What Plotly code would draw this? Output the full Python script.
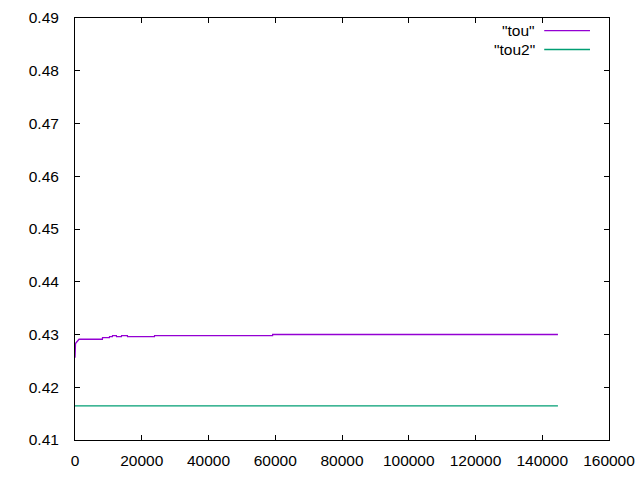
import plotly.graph_objects as go

# data
tou_x = [0, 0, 150, 1200, 8200, 8250, 10300, 10350, 11200, 11250, 12400, 12450,
         13900, 13950, 15700, 15740, 23800, 23840, 59200, 59230, 144700]
tou_y = [0.4256, 0.4281, 0.4283, 0.4291, 0.4291, 0.4294, 0.4294, 0.4296, 0.4296, 0.4298,
         0.4298, 0.4296, 0.4296, 0.4298, 0.4298, 0.4296, 0.4296, 0.4298, 0.4298, 0.4300, 0.4300]
tou2_x = [0, 144700]
tou2_y = [0.41648, 0.41648]

x_ticks = [0, 20000, 40000, 60000, 80000, 100000, 120000, 140000, 160000]
y_ticks = [0.41, 0.42, 0.43, 0.44, 0.45, 0.46, 0.47, 0.48, 0.49]
names = ['"tou"', '"tou2"']
colors = ["#9400D3", "#009E73"]

FONT = dict(family="Liberation Sans, Arial, sans-serif", size=15.5, color="black")

fig = go.Figure()
fig.add_trace(go.Scatter(x=tou_x, y=tou_y, mode="lines", name=names[0],
                         line=dict(color=colors[0], width=1.3)))
fig.add_trace(go.Scatter(x=tou2_x, y=tou2_y, mode="lines", name=names[1],
                         line=dict(color=colors[1], width=1.3)))

axis_common = dict(showgrid=False, zeroline=False, showline=True, linecolor="black",
                   linewidth=1, mirror="allticks", ticks="inside", ticklen=5,
                   tickcolor="black", tickfont=FONT, automargin=False)
fig.update_xaxes(range=[0, 160000], tickvals=x_ticks, ticklabelstandoff=6,
                 ticktext=[str(v) for v in x_ticks], **axis_common)
fig.update_yaxes(range=[0.41, 0.49], tickvals=y_ticks, ticklabelstandoff=12,
                 ticktext=[f"{v:.2f}" for v in y_ticks], **axis_common)

# gnuplot-style key: text right-aligned, sample line to the right
ys = [0.9703, 0.9253]
for i in range(2):
    fig.add_annotation(xref="paper", yref="paper", x=0.8585, y=ys[i], text=names[i],
                       showarrow=False, xanchor="right", yanchor="middle",
                       xshift=4, font=FONT)
    fig.add_shape(type="line", xref="paper", yref="paper", x0=0.8787, x1=0.9644,
                  y0=ys[i], y1=ys[i], line=dict(color=colors[i], width=1.3))

fig.update_layout(width=640, height=480, showlegend=False,
                  margin=dict(l=75, r=31, t=18, b=40, autoexpand=False),
                  plot_bgcolor="white", paper_bgcolor="white")
fig.write_html("out.html", config={"displayModeBar": False},
               post_script="document.documentElement.style.margin='0';"
                           "document.documentElement.style.overflow='hidden';"
                           "document.body.style.margin='0';"
                           "document.body.style.overflow='hidden';")
